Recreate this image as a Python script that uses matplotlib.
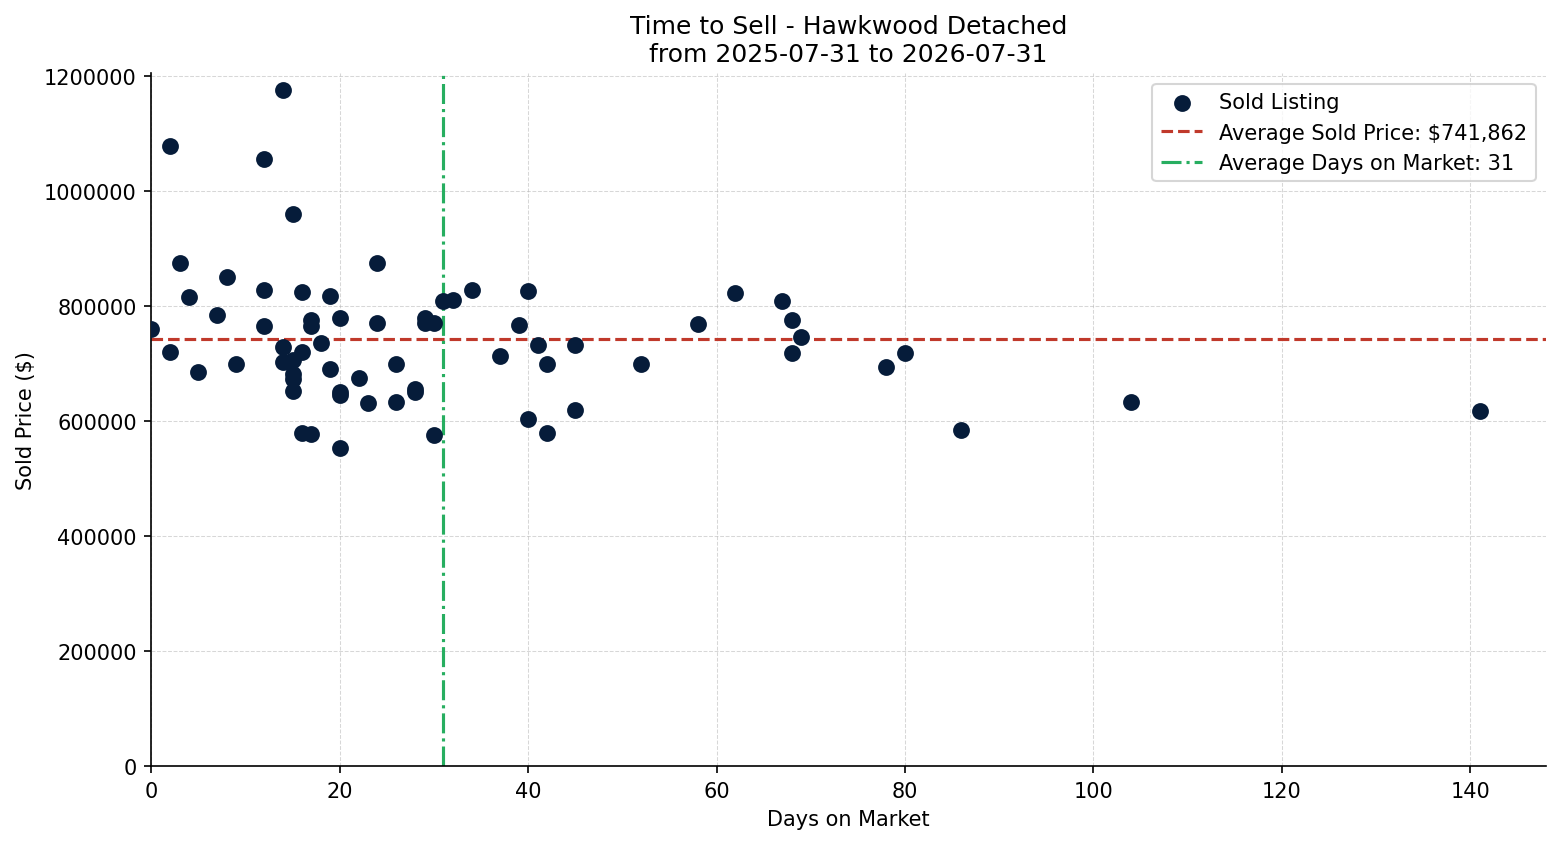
import matplotlib
matplotlib.use("Agg")
import matplotlib.pyplot as plt

# days on market and sold price for each listing
days = [0, 2, 2, 3, 4, 5, 7, 8, 9, 12, 12, 12, 14, 14, 14,
        15, 15, 15, 15, 15, 16, 16, 16, 17, 17, 17, 18, 19, 19,
        20, 20, 20, 20, 22, 23, 24, 24, 26, 26, 28, 28, 29, 29,
        30, 30, 31, 32, 34, 37, 39, 40, 40, 41, 42, 42, 45, 45,
        52, 58, 62, 67, 68, 68, 69, 78, 80, 86, 104, 141]
prices = [760000, 1078000, 720000, 875000, 815000, 685000, 785000, 850000, 700000,
          1055000, 828000, 765000, 1175000, 729000, 703000,
          960000, 706000, 682000, 674000, 653000, 825000, 720000, 580000,
          775000, 765000, 578000, 735000, 817000, 690000,
          780000, 650000, 645000, 553000, 675000, 632000, 875000, 770000,
          700000, 634000, 655000, 650000, 780000, 770000,
          770000, 576000, 808000, 810000, 828000, 713000, 767000, 826000, 603000,
          733000, 699000, 580000, 733000, 619000,
          699000, 768000, 823000, 808000, 776000, 718000, 746000, 694000, 718000,
          584000, 633000, 618000]

avg_price = 741862
avg_days = 31

fig, ax = plt.subplots(figsize=(10.4, 5.633), dpi=150)

ax.scatter(days, prices, color='#061c3a', s=50, zorder=3, label='Sold Listing')
ax.axhline(avg_price, color='#c0392b', linestyle='--', linewidth=1.5,
           label=f'Average Sold Price: ${avg_price:,}')
ax.axvline(avg_days, color='#27ae60', linestyle='-.', linewidth=1.5,
           label=f'Average Days on Market: {avg_days}')

ax.set_xlim(0, max(days) * 1.05)
ax.set_ylim(0, max(prices) * 1.025)
ax.ticklabel_format(axis='y', style='plain')

ax.set_title('Time to Sell - Hawkwood Detached\nfrom 2025-07-31 to 2026-07-31', fontsize=12)
ax.set_xlabel('Days on Market')
ax.set_ylabel('Sold Price ($)')
ax.grid(True, linestyle='--', linewidth=0.5, alpha=0.5)
ax.spines['top'].set_visible(False)
ax.spines['right'].set_visible(False)
ax.legend(loc='upper right')

plt.subplots_adjust(left=0.097, right=0.991, top=0.912, bottom=0.092)
plt.savefig('out.png')
